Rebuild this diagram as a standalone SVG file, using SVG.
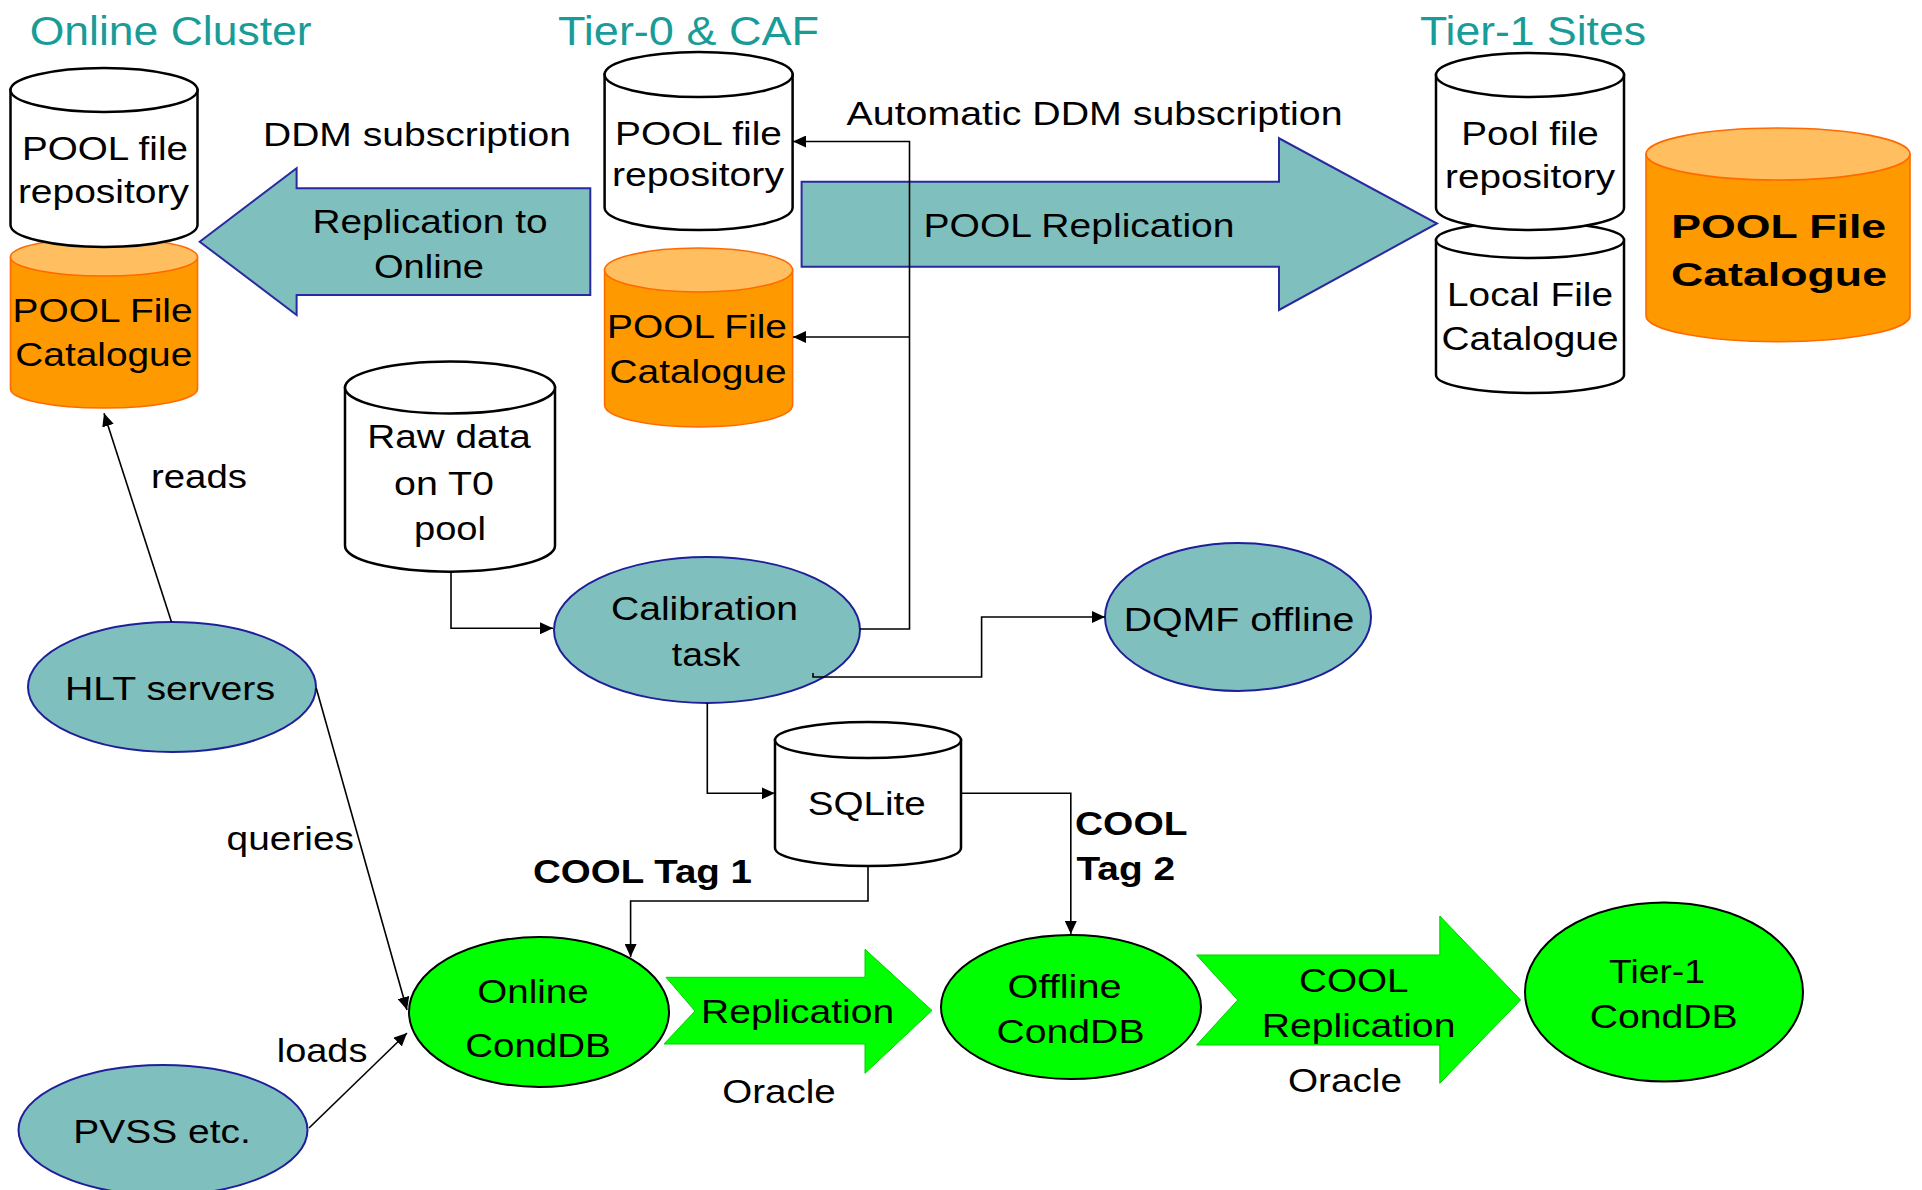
<svg xmlns="http://www.w3.org/2000/svg" width="1922" height="1190" viewBox="0 0 1922 1190">
<defs>
<style>
text{font-family:"Liberation Sans",Arial,sans-serif;fill:#000;font-size:33px}
.t{text-anchor:middle}
.title{fill:#199c98;font-size:40px}
.b{font-weight:bold}
.cylw{fill:#fff;stroke:#000;stroke-width:2.5}
.cylo{fill:#ff9900;stroke:#ff6a00;stroke-width:1.6}
.topo{fill:#ffbf60;stroke:#ff6a00;stroke-width:1.6}
.teal{fill:#7fbfbe;stroke:#1f1f99;stroke-width:2}
.green{fill:#00ff00;stroke:#000;stroke-width:2}
.garrow{fill:#00ff00;stroke:#00d000;stroke-width:1}
.tarrow{fill:#7fbfbe;stroke:#2a2aa0;stroke-width:2}
.c{fill:none;stroke:#000;stroke-width:1.6}
</style>
<marker id="ah" markerUnits="userSpaceOnUse" markerWidth="14" markerHeight="12" refX="13" refY="6" orient="auto">
<path d="M0,0 L13,6 L0,12 z" fill="#000"/>
</marker>
</defs>

<!-- titles -->
<text class="title" x="29.7" y="45" textLength="282" lengthAdjust="spacingAndGlyphs">Online Cluster</text>
<text class="title" x="558" y="45" textLength="261" lengthAdjust="spacingAndGlyphs">Tier-0 &amp; CAF</text>
<text class="title" x="1420" y="45" textLength="226" lengthAdjust="spacingAndGlyphs">Tier-1 Sites</text>

<!-- block arrows -->
<g id="arrow-replication-online">
<polygon class="tarrow" points="590.3,188.3 296.6,188.3 296.6,168.3 199.7,241.7 296.6,315 296.6,295 590.3,295"/>
<text class="t" x="430" y="233" textLength="235" lengthAdjust="spacingAndGlyphs">Replication to</text>
<text class="t" x="429" y="278" textLength="110" lengthAdjust="spacingAndGlyphs">Online</text>
</g>
<g id="arrow-pool-replication">
<polygon class="tarrow" points="801.6,181.7 1279,181.7 1279,138.3 1437,223.5 1279,310 1279,266.7 801.6,266.7"/>
<text class="t" x="1079" y="236.7" textLength="311" lengthAdjust="spacingAndGlyphs">POOL Replication</text>
</g>
<g id="arrow-replication-green">
<polygon class="garrow" points="666,977.3 865,977.3 865,949.3 932,1010.5 865,1073.3 865,1044 664,1044 695,1011"/>
<text class="t" x="797.6" y="1023" font-size="32" textLength="193" lengthAdjust="spacingAndGlyphs">Replication</text>
</g>
<g id="arrow-cool-replication">
<polygon class="garrow" points="1196.6,955 1439.8,955 1439.8,916 1520.6,1000 1439.8,1083.3 1439.8,1045 1196.6,1045 1237.7,1000"/>
<text class="t" x="1353.8" y="991.7" textLength="109.5" lengthAdjust="spacingAndGlyphs">COOL</text>
<text class="t" x="1358.6" y="1036.7" textLength="193.6" lengthAdjust="spacingAndGlyphs">Replication</text>
</g>

<!-- Online cluster cylinders -->
<g id="online-pool-file-catalogue">
<path class="cylo" d="M10.5,257 V389 A93.5,19 0 0 0 197.5,389 V257 Z"/>
<ellipse class="topo" cx="104" cy="257" rx="93.5" ry="19"/>
<text class="t" x="102.6" y="322" textLength="180" lengthAdjust="spacingAndGlyphs">POOL File</text>
<text class="t" x="103.8" y="366" textLength="177" lengthAdjust="spacingAndGlyphs">Catalogue</text>
</g>
<g id="online-pool-file-repository">
<path class="cylw" d="M10.5,90 V225 A93.5,22 0 0 0 197.5,225 V90 Z"/>
<ellipse class="cylw" cx="104" cy="90" rx="93.5" ry="22"/>
<text class="t" x="105" y="160" textLength="166" lengthAdjust="spacingAndGlyphs">POOL file</text>
<text class="t" x="103.4" y="203" textLength="171" lengthAdjust="spacingAndGlyphs">repository</text>
</g>

<!-- Tier-0 cylinders -->
<g id="t0-pool-file-repository">
<path class="cylw" d="M604.6,74.5 V207.5 A94,22.5 0 0 0 792.6,207.5 V74.5 Z"/>
<ellipse class="cylw" cx="698.6" cy="74.5" rx="94" ry="22.5"/>
<text class="t" x="698.5" y="145" textLength="167" lengthAdjust="spacingAndGlyphs">POOL file</text>
<text class="t" x="698" y="186" textLength="172" lengthAdjust="spacingAndGlyphs">repository</text>
</g>
<g id="t0-pool-file-catalogue">
<path class="cylo" d="M604.6,270 V405 A94,22 0 0 0 792.6,405 V270 Z"/>
<ellipse class="topo" cx="698.6" cy="270" rx="94" ry="22"/>
<text class="t" x="697" y="338" textLength="180" lengthAdjust="spacingAndGlyphs">POOL File</text>
<text class="t" x="698" y="383" textLength="177" lengthAdjust="spacingAndGlyphs">Catalogue</text>
</g>

<!-- Tier-1 cylinders -->
<g id="t1-local-file-catalogue">
<path class="cylw" d="M1436,240 V375 A94,18 0 0 0 1624,375 V240 Z"/>
<ellipse class="cylw" cx="1530" cy="240" rx="94" ry="18"/>
<text class="t" x="1530" y="306" textLength="166" lengthAdjust="spacingAndGlyphs">Local File</text>
<text class="t" x="1530" y="350" textLength="177" lengthAdjust="spacingAndGlyphs">Catalogue</text>
</g>
<g id="t1-pool-file-repository">
<path class="cylw" d="M1436,75 V208 A94,22 0 0 0 1624,208 V75 Z"/>
<ellipse class="cylw" cx="1530" cy="75" rx="94" ry="22"/>
<text class="t" x="1530" y="145" textLength="137.5" lengthAdjust="spacingAndGlyphs">Pool file</text>
<text class="t" x="1530" y="188" textLength="170" lengthAdjust="spacingAndGlyphs">repository</text>
</g>
<g id="t1-pool-file-catalogue">
<path class="cylo" d="M1646,154 V315.7 A132,26 0 0 0 1910,315.7 V154 Z"/>
<ellipse class="topo" cx="1778" cy="154" rx="132" ry="26"/>
<text class="t b" x="1778.7" y="238" font-size="42" textLength="215" lengthAdjust="spacingAndGlyphs">POOL File</text>
<text class="t b" x="1779" y="286" font-size="42" textLength="216" lengthAdjust="spacingAndGlyphs">Catalogue</text>
</g>

<!-- Raw data -->
<g id="raw-data">
<path class="cylw" d="M345,387.5 V545.7 A105,26 0 0 0 555,545.7 V387.5 Z"/>
<ellipse class="cylw" cx="450" cy="387.5" rx="105" ry="26"/>
<text class="t" x="449" y="448" textLength="163.6" lengthAdjust="spacingAndGlyphs">Raw data</text>
<text class="t" x="444" y="495" textLength="100" lengthAdjust="spacingAndGlyphs">on T0</text>
<text class="t" x="450" y="540" textLength="72" lengthAdjust="spacingAndGlyphs">pool</text>
</g>

<!-- SQLite -->
<g id="sqlite">
<path class="cylw" d="M775,740 V848 A93,18 0 0 0 961,848 V740 Z"/>
<ellipse class="cylw" cx="868" cy="740" rx="93" ry="18"/>
<text class="t" x="866.7" y="815" textLength="118" lengthAdjust="spacingAndGlyphs">SQLite</text>
</g>

<!-- teal ellipses -->
<g id="hlt-servers">
<ellipse class="teal" cx="172" cy="687" rx="144" ry="65"/>
<text class="t" x="170" y="700" textLength="210" lengthAdjust="spacingAndGlyphs">HLT servers</text>
</g>
<g id="calibration-task">
<ellipse class="teal" cx="707" cy="630" rx="153" ry="73"/>
<text class="t" x="704.4" y="620" textLength="187" lengthAdjust="spacingAndGlyphs">Calibration</text>
<text class="t" x="706" y="666" textLength="68.4" lengthAdjust="spacingAndGlyphs">task</text>
</g>
<g id="dqmf-offline">
<ellipse class="teal" cx="1238" cy="617" rx="133" ry="74"/>
<text class="t" x="1239" y="630.7" textLength="230.6" lengthAdjust="spacingAndGlyphs">DQMF offline</text>
</g>
<g id="pvss">
<ellipse class="teal" cx="163" cy="1130" rx="144.5" ry="65"/>
<text class="t" x="162" y="1143" textLength="177.5" lengthAdjust="spacingAndGlyphs">PVSS etc.</text>
</g>

<!-- green circles -->
<g id="online-conddb">
<ellipse class="green" cx="539" cy="1012" rx="130" ry="75"/>
<text class="t" x="533" y="1002.7" font-size="32" textLength="111.4" lengthAdjust="spacingAndGlyphs">Online</text>
<text class="t" x="538" y="1056.7" font-size="32" textLength="145.6" lengthAdjust="spacingAndGlyphs">CondDB</text>
</g>
<g id="offline-conddb">
<ellipse class="green" cx="1071" cy="1007" rx="130" ry="72"/>
<text class="t" x="1064.6" y="997.7" font-size="32" textLength="114" lengthAdjust="spacingAndGlyphs">Offline</text>
<text class="t" x="1070.5" y="1042.7" font-size="32" textLength="148" lengthAdjust="spacingAndGlyphs">CondDB</text>
</g>
<g id="tier1-conddb">
<ellipse class="green" cx="1664" cy="992" rx="139" ry="89.5"/>
<text class="t" x="1657" y="982.7" font-size="32" textLength="96" lengthAdjust="spacingAndGlyphs">Tier-1</text>
<text class="t" x="1663.7" y="1028.3" font-size="32" textLength="148" lengthAdjust="spacingAndGlyphs">CondDB</text>
</g>

<!-- connectors -->
<g id="connectors">
<path class="c" marker-end="url(#ah)" d="M171.4,621.7 L104,413.3"/>
<path class="c" marker-end="url(#ah)" d="M316.3,688.3 L407,1010"/>
<path class="c" marker-end="url(#ah)" d="M309,1128 L407,1033"/>
<path class="c" marker-end="url(#ah)" d="M451,572 V628.3 H553"/>
<path class="c" marker-end="url(#ah)" d="M859.8,629 H909.5 V141.5 H793"/>
<path class="c" marker-end="url(#ah)" d="M909.5,337 H793"/>
<path class="c" marker-end="url(#ah)" d="M813,673 V677 H981.6 V617 H1105"/>
<path class="c" marker-end="url(#ah)" d="M707.3,703 V793.3 H774.8"/>
<path class="c" marker-end="url(#ah)" d="M961.3,793.3 H1070.8 V934"/>
<path class="c" marker-end="url(#ah)" d="M868,866.7 V901 H630.6 V957"/>
</g>

<!-- labels -->
<text x="263" y="146" textLength="308" lengthAdjust="spacingAndGlyphs">DDM subscription</text>
<text x="846.6" y="125" textLength="496" lengthAdjust="spacingAndGlyphs">Automatic DDM subscription</text>
<text x="151" y="488" textLength="96" lengthAdjust="spacingAndGlyphs">reads</text>
<text x="226.6" y="850" textLength="127.4" lengthAdjust="spacingAndGlyphs">queries</text>
<text x="276.8" y="1061.7" textLength="90.6" lengthAdjust="spacingAndGlyphs">loads</text>
<text class="b" x="533" y="883" font-size="32" textLength="219" lengthAdjust="spacingAndGlyphs">COOL Tag 1</text>
<text class="b" x="1075" y="835" font-size="32" textLength="112.5" lengthAdjust="spacingAndGlyphs">COOL</text>
<text class="b" x="1076.5" y="880" font-size="32" textLength="98.5" lengthAdjust="spacingAndGlyphs">Tag 2</text>
<text class="t" x="779" y="1103" font-size="32" textLength="113.4" lengthAdjust="spacingAndGlyphs">Oracle</text>
<text class="t" x="1345" y="1091.7" font-size="32" textLength="114" lengthAdjust="spacingAndGlyphs">Oracle</text>
</svg>
